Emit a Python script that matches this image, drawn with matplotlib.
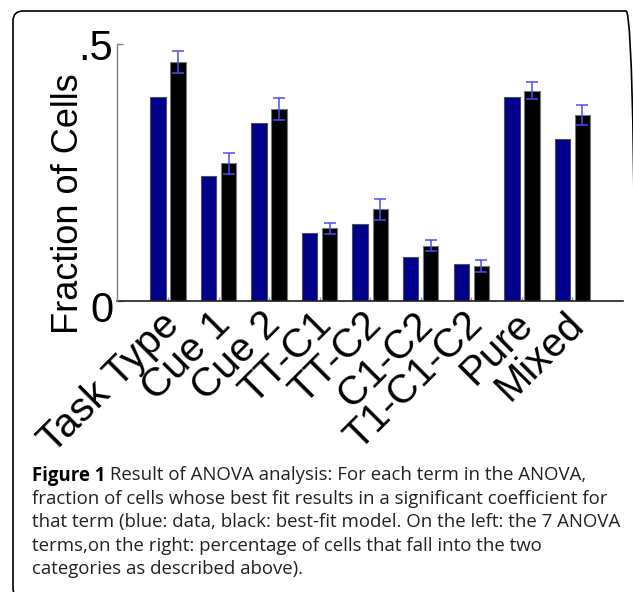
import matplotlib
matplotlib.use("Agg")
import matplotlib.pyplot as plt
import matplotlib.transforms as mtransforms
from matplotlib.patches import FancyBboxPatch
import numpy as np

# ---- data ----
categories = ["Task Type", "Cue 1", "Cue 2", "TT-C1", "TT-C2", "C1-C2", "T1-C1-C2", "Pure", "Mixed"]
data_vals = [0.398, 0.243, 0.347, 0.1325, 0.1505, 0.0863, 0.072, 0.398, 0.316]
model_vals = [0.4655, 0.268, 0.374, 0.1415, 0.1786, 0.1077, 0.068, 0.410, 0.3617]
model_err = [0.022, 0.021, 0.022, 0.011, 0.021, 0.0105, 0.0118, 0.016, 0.0195]
ytick_vals = [0, 0.5]
ytick_labels = ["0", ".5"]
ylabel = "Fraction of Cells"
caption_bold = "Figure 1"
caption_lines = [
    " Result of ANOVA analysis: For each term in the ANOVA,",
    "fraction of cells whose best fit results in a significant coefficient for",
    "that term (blue: data, black: best-fit model. On the left: the 7 ANOVA",
    "terms,on the right: percentage of cells that fall into the two",
    "categories as described above).",
]

W, H = 633, 592
fig = plt.figure(figsize=(W / 100, H / 100), dpi=100)

def fx(px):
    return px / W

def fy(py):
    return 1 - py / H

# border box (cropped at right/bottom), drawn in pixel-like inch units
bl, bt, br, bb_ = 13, 11, 636, 598
box = FancyBboxPatch((bl / 100, (H - bb_) / 100), (br - bl) / 100, (bb_ - bt) / 100,
                     boxstyle="round,pad=0,rounding_size=0.10",
                     transform=fig.dpi_scale_trans, fill=False, edgecolor="black",
                     linewidth=1.2, clip_on=False)
fig.patches.append(box)

ax_left, ax_right = 117.4, 623
ax_top, ax_bot = 44.3, 301
ax = fig.add_axes([fx(ax_left), fy(ax_bot), (ax_right - ax_left) / W, (ax_bot - ax_top) / H])

x = np.arange(1, len(categories) + 1)
off = 0.198
bw = 0.305
ax.bar(x - off, data_vals, width=bw, color="#00008c", edgecolor="#505050", linewidth=0.8, zorder=2)
ax.bar(x + off, model_vals, width=bw, color="black", edgecolor="#7a7a7a", linewidth=0.8, zorder=2)
ax.errorbar(x + off, model_vals, yerr=model_err, fmt="none", ecolor="#4a4aff",
            elinewidth=1.1, capsize=4.5, capthick=1.1, zorder=3)

ax.set_xlim(0, 10)
ax.set_ylim(0, 0.5)
for s in ["top", "right"]:
    ax.spines[s].set_visible(False)
ax.spines["left"].set_color("#808080")
ax.spines["left"].set_linewidth(1.0)
ax.spines["bottom"].set_color("#202020")
ax.spines["bottom"].set_linewidth(1.2)
ax.spines["left"].set_zorder(4)

ax.set_yticks(ytick_vals)
ax.set_yticklabels(ytick_labels, fontsize=30, family="Liberation Sans")
ax.tick_params(axis="y", direction="in", length=4.5, width=1, color="#808080", pad=3)
ylabs = ax.get_yticklabels()
ylabs[0].set_transform(ylabs[0].get_transform() +
                       mtransforms.ScaledTranslation(0, -5 / 100, fig.dpi_scale_trans))

ax.set_xticks(x)
ax.set_xticklabels(categories, fontsize=29, family="Liberation Sans",
                   rotation=45, ha="right", va="top", rotation_mode="anchor")
ax.tick_params(axis="x", direction="in", length=3, width=1, color="#909090", pad=3)
shift = mtransforms.ScaledTranslation(-8 / 100, 0, fig.dpi_scale_trans)
for lab in ax.get_xticklabels():
    lab.set_transform(lab.get_transform() + shift)

fig.text(fx(69), fy(204), ylabel, rotation=90, ha="center", va="center",
         fontsize=26, family="Liberation Sans")

# caption
cap_font = "Open Sans"
cap_size = 13.4
cap_x = fx(32)
baselines = [480.5, 504, 527.5, 551, 574.5]
t0 = fig.text(cap_x, fy(baselines[0]), caption_bold, fontsize=cap_size, family=cap_font,
              fontweight="bold", va="baseline", ha="left")
fig.canvas.draw()
bbx = t0.get_window_extent(renderer=fig.canvas.get_renderer())
x_after = bbx.x1 / W
fig.text(x_after, fy(baselines[0]), caption_lines[0], fontsize=cap_size, family=cap_font,
         va="baseline", ha="left", color="#222222")
for ln, b in zip(caption_lines[1:], baselines[1:]):
    fig.text(cap_x, fy(b), ln, fontsize=cap_size, family=cap_font, va="baseline",
             ha="left", color="#222222")

fig.savefig("out.png", dpi=100)
